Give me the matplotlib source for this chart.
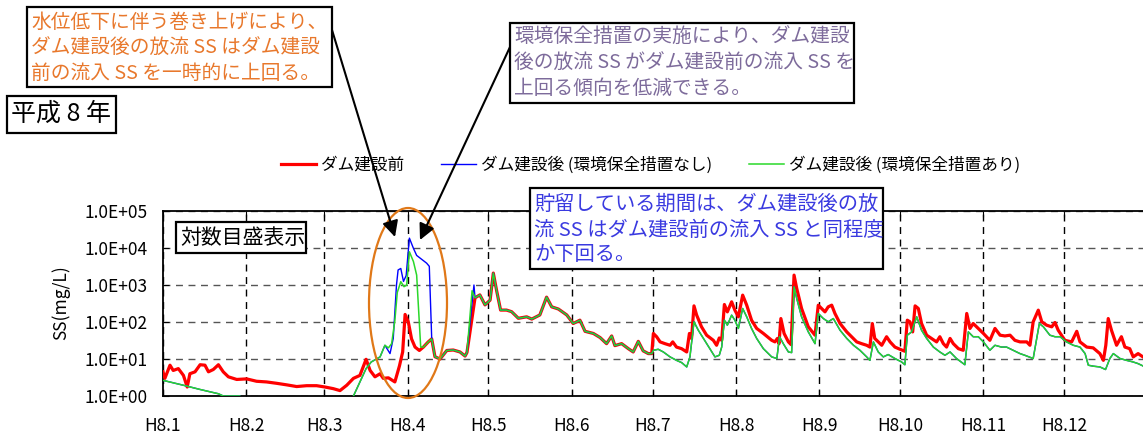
import numpy as np
import matplotlib
matplotlib.use("Agg")
import matplotlib.pyplot as plt
from matplotlib.patches import Rectangle, Ellipse, FancyArrowPatch
from matplotlib.ticker import FixedLocator, FuncFormatter, NullLocator

plt.rcParams['font.family'] = ['Noto Sans CJK JP', 'DejaVu Sans']

# ---- data (day of year 1996 = H8, SS in mg/L) ----
month_days = [0, 31, 60, 91, 121, 152, 182, 213, 244, 274, 305, 335]
month_labels = ["H8.%d" % m for m in range(1, 13)]

# before dam, Jan - mid May
red_early_days = [0, 0.7, 2.6, 3.8, 5.7, 7.6, 9.0, 10.0, 11.9, 13.8, 15.6, 16.9, 18.7,
                  20.6, 22.4, 24.3, 27.4, 31.1, 34.8, 38.5, 42.3, 46.0, 49.7, 53.4, 57.1,
                  60.2, 63.3, 65.8, 68.3, 70.8, 73.2, 75.5, 77.0, 78.8, 80.7, 81.9, 83.8,
                  86.2, 87.9, 89.1, 90.0, 91.2, 92.4, 93.7, 95.3, 96.8, 98.6, 99.9, 101.1,
                  103.0, 105.5, 107.9, 110.4, 112.3, 113.0, 116.0]
red_early_vals = [4.5, 3.0, 6.8, 4.9, 5.5, 3.6, 1.75, 4.0, 4.5, 7.0, 6.8, 4.5, 5.2,
                  7.0, 4.5, 3.3, 2.8, 2.9, 2.5, 2.4, 2.2, 2.0, 1.8, 1.9, 1.9,
                  1.75, 1.58, 1.4, 1.95, 3.0, 3.6, 9.8, 4.9, 3.3, 4.0, 3.0, 3.1,
                  2.4, 6.5, 15.5, 160, 100, 35, 21, 17, 21, 29, 35, 11.5,
                  10, 17, 17.5, 15.5, 12, 15, 450]

# May - June, all three series identical
common_days = [117.8, 119.7, 121.6, 122.8, 124.0, 125.5, 127.7, 129.6, 132.1, 135.2,
               137.1, 140.1, 142.6, 144.5, 147.0, 150.1, 152.5, 155.0, 156.9, 160.0,
               162.5, 164.9, 166.8, 168.0, 170.5, 173.0, 174.8, 176.7, 178.5, 180.4, 181.7]
common_vals = [540, 290, 390, 2100, 720, 210, 210, 190, 126, 138,
               120, 155, 470, 257, 224, 155, 91, 112, 56, 49,
               38, 26, 42, 23, 26, 19, 15.5, 30, 16.6, 14, 14]

# before dam, July - December
red_late_days = [182.3, 183.5, 184.8, 186.6, 188.5, 189.5, 190.9, 192.8, 194.7, 195.7,
                 196.5, 197.4, 198.4, 200.2, 202.1, 204.6, 205.8, 206.8, 207.7, 208.7,
                 209.8, 211.4, 212.6, 213.9, 215.5, 217.0, 218.8, 220.7, 223.2, 226.3,
                 227.5, 228.4, 229.0, 229.7, 230.9, 232.5, 233.5, 234.6, 235.6, 237.4,
                 239.9, 242.4, 243.6,
                 246.1, 247.3, 248.6, 249.8, 251.7, 254.2, 256.0, 257.9, 259.7, 261.6,
                 262.8, 263.7, 264.6, 265.9, 267.2, 269.0, 270.3, 272.1, 274.0, 275.8,
                 276.7, 277.7, 278.7, 279.6, 280.8, 282.0, 283.9, 285.7, 287.6, 288.8,
                 290.1, 291.3, 292.6, 293.8, 295.7, 297.5, 298.8, 300.0, 301.2, 303.1,
                 305.0, 307.4, 309.3, 311.2, 313.0, 314.9, 316.7, 318.6, 321.1, 322.3,
                 323.5, 325.4, 326.7, 328.5, 330.4, 331.6, 332.8, 335.3, 337.8, 339.7,
                 340.9, 343.4, 345.8, 348.3, 349.6, 350.5, 351.4, 352.6, 354.5, 356.3,
                 357.6, 359.4, 360.7, 362.5, 364.3]
red_late_vals = [49, 40, 29, 26, 23.5, 29, 21, 19, 15.5, 49,
                 36, 273, 153, 74, 44, 32, 23.5, 37, 32, 297,
                 188, 351, 209, 138, 532, 285, 112, 67, 49, 32,
                 29, 36, 26, 124, 49, 29, 24.5, 1850, 805, 232,
                 74, 44, 285,
                 188, 257, 285, 170, 91, 54, 40, 29, 26, 23.5,
                 21, 91, 36, 29, 23.5, 40, 29, 21, 18.3, 16.2,
                 112, 101, 54, 273, 232, 91, 44, 36, 29, 40,
                 26, 21, 36, 26, 19, 17.2, 170, 67, 91, 67,
                 49, 32, 67, 44, 42, 44, 32, 29, 29, 23.5,
                 101, 209, 101, 82, 74, 97, 60, 32, 29, 56,
                 29, 21, 20, 14, 9.2, 23.5, 124, 60, 23.5, 40,
                 21, 19, 11.4, 14, 11.4]

# after dam with measures, Jan - mid May (values < 1 fall below the axis)
green_early_days = [0, 7.6, 13.8, 20.6, 22.4, 28.6, 30, 68, 70.8, 73.2, 75.5, 77.4,
                    80.7, 82.5, 83.8, 85.0, 86.2, 87.1, 88.4, 89.6, 90.6, 91.6, 93.1,
                    94.3, 95.8, 96.8, 98.6, 99.9, 101.1, 103.0, 105.5, 107.9, 110.4,
                    112.3, 113.0, 114.9, 116.0]
green_early_vals = [2.65, 1.95, 1.5, 1.15, 1.0, 1.0, 0.3, 0.3, 1.0, 2.4, 5.5, 8.3,
                    11.4, 23.5, 20, 26, 110, 630, 1230, 900, 1000, 7900, 4300,
                    1850, 21, 21, 29, 35, 11.5, 10, 17, 17.5, 15.5,
                    12, 15, 700, 450]

# after dam with measures, July - December
green_late_days = [182.3, 184.1, 186.0, 188.5, 190.9, 192.8, 194.7, 195.9, 197.4, 199.0,
                   200.9, 203.3, 205.2, 206.8, 207.7, 208.7, 209.8, 211.4, 212.6, 213.9,
                   215.5, 217.0, 218.8, 220.7, 223.2, 226.3, 228.2, 229.2, 230.6, 232.5,
                   233.7, 234.6, 235.6, 237.4, 239.9, 242.4, 243.6, 245.5, 247.3,
                   249.2, 251.7, 254.2, 256.7, 259.1, 261.6, 262.8, 264.1, 265.9, 267.8,
                   269.6, 272.1, 274.6, 275.8, 276.7, 278.3, 280.2, 282.0, 283.9, 286.4,
                   288.8, 290.7, 292.6, 295.0, 298.1, 299.4, 301.2, 303.1, 305.0, 307.4,
                   309.3, 311.7, 313.6, 316.1, 318.6, 320.4, 323.5, 325.8, 327.3, 329.7,
                   331.6, 333.5, 335.9, 338.4, 340.9, 342.8, 344.0, 345.8, 348.3, 350.4,
                   352.0, 353.3, 355.8, 358.2, 360.7, 362.5, 364.3]
green_late_vals = [17.2, 18.3, 15.5, 11.4, 9.2, 8.0, 6.1, 11.4, 101, 60,
                   36, 19, 11.4, 12.6, 21, 112, 82, 153, 112, 67,
                   232, 138, 67, 36, 19, 11.4, 10.3, 40, 26, 15.5,
                   14.9, 893, 432, 138, 54, 26, 170, 124, 101,
                   124, 60, 36, 23.5, 17.2, 11.4, 9.2, 29, 15.5, 11.4,
                   13.2, 10.3, 8.3, 7.0, 44, 54, 138, 60, 36, 21,
                   15.5, 12.6, 15.5, 10.3, 7.0, 54, 40, 40, 29, 17.2,
                   23.5, 21, 21, 17.2, 14, 12.6, 10.3, 91, 74, 44,
                   40, 40, 29, 23.5, 21, 14, 6.8, 6.4, 6.1, 5.2,
                   10.3, 14, 10.3, 9.2, 8.3, 7.5, 6.5]

# after dam without measures: where it differs from the green series
blue_diff_days = [82.5, 84.4, 85.6, 86.8, 87.4, 88.4, 89.4, 90.4, 91.6, 93.1, 94.3,
                  98.0, 99.0, 99.9, 115.6]
blue_diff_vals = [23.5, 14, 36, 1000, 2550, 2800, 1250, 1800, 18500, 9800, 6300,
                  3900, 3200, 35, 1000]

# ---- build series ----
red_d = np.array(red_early_days + common_days + red_late_days)
red_v = np.array(red_early_vals + common_vals + red_late_vals)
green_d = np.array(green_early_days + common_days + green_late_days)
green_v = np.array(green_early_vals + common_vals + green_late_vals)
keep = ~(((green_d > 81) & (green_d < 100.5)) | ((green_d > 113.5) & (green_d < 115.9)))
blue_d = np.concatenate([green_d[keep], blue_diff_days])
blue_v = np.concatenate([green_v[keep], blue_diff_vals])
order = np.argsort(blue_d)
blue_d, blue_v = blue_d[order], blue_v[order]

W, H = 1143, 441
fig = plt.figure(figsize=(W / 100, H / 100), dpi=100)


def fx(px):
    return px / W


def fy(py):
    return 1 - py / H


ax = fig.add_axes([fx(163), fy(396), fx(1147.5) - fx(163), fy(211) - fy(396)])

l_red, = ax.plot(red_d, red_v, color="#FF0000", lw=2.3, label="ダム建設前", zorder=3)
l_blue, = ax.plot(blue_d, blue_v, color="#0000FF", lw=1.0,
                  label="ダム建設後 (環境保全措置なし)", zorder=4)
l_green, = ax.plot(green_d, green_v, color="#2AD82A", lw=1.1,
                   label="ダム建設後 (環境保全措置あり)", zorder=5)

ax.set_yscale("log")
ax.set_ylim(1, 1e5)
ax.set_xlim(0, 366)
ax.yaxis.set_major_locator(FixedLocator([1, 10, 100, 1e3, 1e4, 1e5]))
ax.yaxis.set_minor_locator(NullLocator())
ax.yaxis.set_major_formatter(FuncFormatter(lambda v, p: "1.0E+%02d" % round(np.log10(v))))
ax.set_xticks(month_days)
ax.set_xticklabels(month_labels)
ax.tick_params(direction="in", length=4, top=True, labelsize=12.5, colors="black")
ax.tick_params(axis="y", pad=11)
ax.tick_params(axis="x", pad=15)

ax.grid(True, axis="x", color="black", lw=1.0, ls=(0, (5, 4)))
ax.grid(True, axis="y", color="#555555", lw=1.0, ls=(0, (5, 4)))
ax.spines["right"].set_visible(False)
for s in ("left", "top", "bottom"):
    ax.spines[s].set_linewidth(1.3)

fig.text(fx(61), fy(303), "SS(mg/L)", rotation=90, ha="center", va="center", fontsize=12.5)

fig.legend(handles=[l_red, l_blue, l_green], loc="center left",
           bbox_to_anchor=(fx(281), fy(165)), frameon=False, ncol=3,
           fontsize=12, handlelength=2.1, handletextpad=0.3, columnspacing=2.2,
           borderpad=0, borderaxespad=0)


def note(x0, y0, x1, y1, lines, ys, color, size, x_text=None):
    fig.add_artist(Rectangle((fx(x0), fy(y1)), fx(x1) - fx(x0), fy(y0) - fy(y1),
                             transform=fig.transFigure, facecolor="white",
                             edgecolor="black", lw=1.6, zorder=6))
    xt = x0 + 4 if x_text is None else x_text
    for line, yy in zip(lines, ys):
        fig.text(fx(xt), fy(yy), line, color=color, fontsize=size,
                 ha="left", va="center", zorder=7)


note(27, 7, 332, 87,
     ["水位低下に伴う巻き上げにより、",
      "ダム建設後の放流 SS はダム建設",
      "前の流入 SS を一時的に上回る。"],
     [22, 48, 73], "#E8782C", 14.2)
note(510, 23, 854, 103,
     ["環境保全措置の実施により、ダム建設",
      "後の放流 SS がダム建設前の流入 SS を",
      "上回る傾向を低減できる。"],
     [37, 63, 88], "#7D6B9B", 14.2)
note(530, 188, 883, 269,
     ["貯留している期間は、ダム建設後の放",
      "流 SS はダム建設前の流入 SS と同程度",
      "か下回る。"],
     [204, 230, 255], "#3A3AE0", 14.6)
note(7, 96, 116, 133, ["平成 8 年"], [114], "black", 18)
note(176, 222, 306, 253, ["対数目盛表示"], [238], "black", 15)

fig.add_artist(Ellipse((fx(408), fy(303)), fx(78), fy(0) - fy(190),
                       transform=fig.transFigure, fill=False,
                       edgecolor="#E07818", lw=1.6, zorder=8))

for start, tip in [((332, 30), (395, 237)), ((510, 47), (420, 240))]:
    fig.add_artist(FancyArrowPatch((fx(start[0]), fy(start[1])), (fx(tip[0]), fy(tip[1])),
                                   transform=fig.transFigure, arrowstyle="-|>",
                                   mutation_scale=24, lw=1.5, color="black",
                                   shrinkA=0, shrinkB=0, zorder=9))

fig.savefig("out.png", dpi=100)
